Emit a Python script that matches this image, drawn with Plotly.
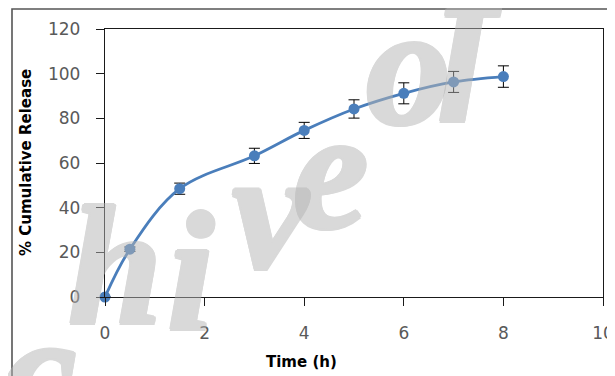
import plotly.graph_objects as go

time_h = [0, 0.5, 1.5, 3, 4, 5, 6, 7, 8]
release = [0, 21.4, 48.5, 63.2, 74.6, 84.2, 91.2, 96.3, 98.7]
err = [0, 1.0, 2.5, 3.4, 3.6, 4.1, 4.7, 4.7, 4.8]
x_ticks = [0, 2, 4, 6, 8, 10]
y_ticks = [0, 20, 40, 60, 80, 100, 120]

# the page adds an 8px body margin; work in page pixels
OFF = 8
W, H = 615 - OFF, 376 - OFF
PL, PR, PT, PB = 105, 603, 29, 297  # plot area in page pixels
L, T = PL - OFF, PT - OFF
R, B = W - (PR - OFF), H - (PB - OFF)
pw, ph = PR - PL, PB - PT

def px_x(p):
    return (p - PL) / pw

def px_y(p):
    return (PB - p) / ph

fig = go.Figure()
fig.add_trace(go.Scatter(
    x=time_h, y=release, mode="lines+markers",
    line=dict(color="#4a7ebb", width=2.8, shape="spline", smoothing=1.0),
    marker=dict(color="#4a7ebb", size=11),
    error_y=dict(type="data", array=err, visible=True, color="#000000",
                 thickness=1, width=5.5),
    showlegend=False, cliponaxis=False,
))

axis_common = dict(
    showline=True, linecolor="#1a1a1a", linewidth=1.3, mirror=True,
    ticks="outside", ticklen=8, tickcolor="#1a1a1a", tickwidth=1.3,
    showgrid=False, zeroline=False,
    tickfont=dict(family="DejaVu Sans", size=17, color="#595959"),
)
fig.update_xaxes(range=[0, 10], tickvals=x_ticks, ticklabelstandoff=12, **axis_common)
fig.update_yaxes(range=[0, 120], tickvals=y_ticks, ticklabelstandoff=12, **axis_common)

annotations = [
    dict(text="% Cumulative Release", xref="paper", yref="paper",
         x=px_x(26), y=px_y(163), textangle=-90, showarrow=False,
         xanchor="center", yanchor="middle",
         font=dict(family="DejaVu Sans", size=15, color="#000000", weight="bold")),
    dict(text="Time (h)", xref="paper", yref="paper",
         x=px_x(301), y=px_y(362), showarrow=False,
         xanchor="center", yanchor="middle",
         font=dict(family="DejaVu Sans", size=15, color="#000000", weight="bold")),
]

# watermark letters ("...chive of...") stepping up diagonally, placed in page pixels
WM_GRAY = "#b4b4b4"
wm_shadow = ", ".join(f"{dx}px {dy}px 0 {WM_GRAY}" for dx, dy in
                      [(2, 0), (-2, 0), (0, 2), (0, -2), (1.5, 1.5), (-1.5, -1.5),
                       (1.5, -1.5), (-1.5, 1.5)])
wm_letters = [("c", 38, 372), ("h", 115, 266), ("i", 190, 272), ("v", 270, 210),
              ("e", 330, 170), ("o", 408, 66), ("f", 476, 28)]
for ch, lx, ly in wm_letters:
    annotations.append(dict(
        text=ch, xref="paper", yref="paper", x=px_x(lx), y=px_y(ly),
        showarrow=False, xanchor="center", yanchor="middle", opacity=0.5,
        font=dict(family="Liberation Serif", size=170, color=WM_GRAY,
                  weight="bold", style="italic", shadow=wm_shadow)))

fig.update_layout(
    width=W, height=H,
    margin=dict(l=L, r=R, t=T, b=B, pad=0, autoexpand=False),
    paper_bgcolor="white", plot_bgcolor="white",
    shapes=[dict(type="rect", xref="paper", yref="paper",
                 x0=px_x(12), x1=px_x(640), y0=px_y(400), y1=px_y(9),
                 line=dict(color="#555555", width=1.6), layer="above")],
    annotations=annotations,
)

fig.write_html("out.html")
